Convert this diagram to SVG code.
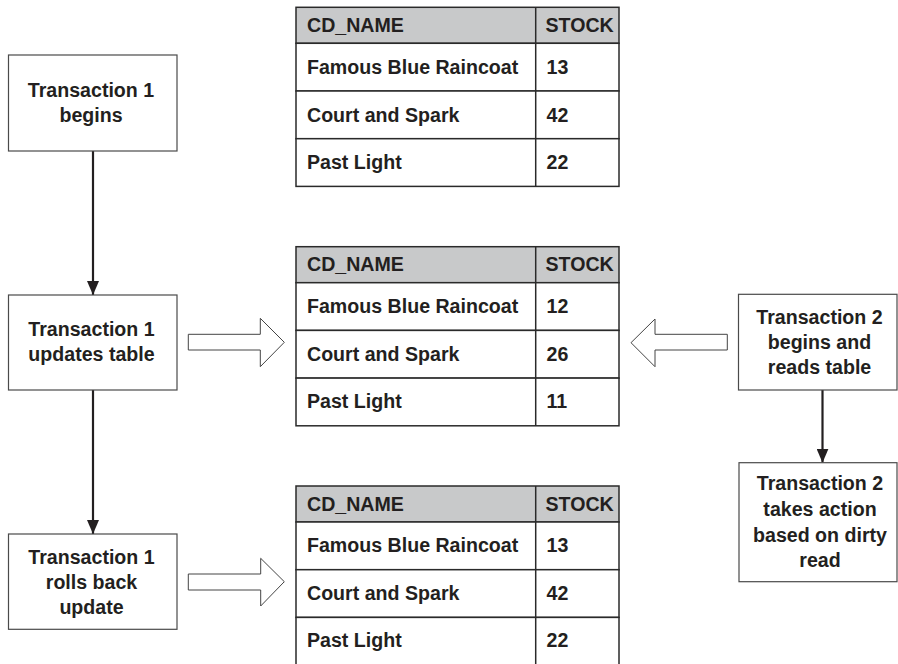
<svg xmlns="http://www.w3.org/2000/svg" width="898" height="664" viewBox="0 0 898 664">
<style>
  text { font-family: "Liberation Sans", Arial, sans-serif; font-weight: bold; font-size: 19.6px; fill: #231f20; }
  .c { text-anchor: middle; }
  .box { fill: #ffffff; stroke: #4a4a4a; stroke-width: 1.2; }
  .cell { fill: #ffffff; stroke: #2a2a2a; stroke-width: 1.5; }
  .hdr { fill: #c8c9ca; stroke: #2a2a2a; stroke-width: 1.5; }
  .line { stroke: #231f20; stroke-width: 2.2; fill: none; }
  .hollow { fill: #ffffff; stroke: #444; stroke-width: 1; stroke-linejoin: miter; }
</style>
<defs>
  <marker id="ah" viewBox="0 0 14 12" refX="14" refY="6" markerWidth="14" markerHeight="12" markerUnits="userSpaceOnUse" orient="auto">
    <path d="M0,0 L14,6 L0,12 Z" fill="#231f20"/>
  </marker>
  <g id="tbl-frame">
    <rect class="hdr" x="0" y="0" width="323" height="36"/>
    <rect class="cell" x="0" y="36" width="323" height="47.7"/>
    <rect class="cell" x="0" y="83.7" width="323" height="47.7"/>
    <rect class="cell" x="0" y="131.4" width="323" height="47.7"/>
    <line x1="239.7" y1="0" x2="239.7" y2="179.1" stroke="#2a2a2a" stroke-width="1.5"/>
    <text x="11" y="24.8">CD_NAME</text>
    <text x="249.5" y="24.8">STOCK</text>
    <text x="11" y="66.3">Famous Blue Raincoat</text>
    <text x="11" y="114.3">Court and Spark</text>
    <text x="11" y="161.3">Past Light</text>
  </g>
</defs>

<g id="connectors">
  <line class="line" x1="93" y1="151" x2="93" y2="295" marker-end="url(#ah)"/>
  <line class="line" x1="93" y1="390" x2="93" y2="534" marker-end="url(#ah)"/>
  <line class="line" x1="822.5" y1="390" x2="822.5" y2="462.7" marker-end="url(#ah)"/>
  <path class="hollow" d="M188.3,334.3 L260.3,334.3 L260.3,318.3 L284.3,342.3 L260.3,366.7 L260.3,350 L188.3,350 Z"/>
  <path class="hollow" d="M727.3,334.3 L655,334.3 L655,319 L631,342.7 L655,366.7 L655,350 L727.3,350 Z"/>
  <path class="hollow" d="M188.3,574 L260.7,574 L260.7,558.3 L284.3,581.7 L260.7,606 L260.7,590 L188.3,590 Z"/>
</g>

<g id="t1-begins">
  <rect class="box" x="8.5" y="55" width="168.5" height="96"/>
  <text class="c" x="91" y="97.3">Transaction 1</text>
  <text class="c" x="91" y="122.3">begins</text>
</g>

<g id="t1-updates">
  <rect class="box" x="8.5" y="295" width="168.5" height="95"/>
  <text class="c" x="91.5" y="336.3">Transaction 1</text>
  <text class="c" x="91.5" y="361.3">updates table</text>
</g>

<g id="t1-rollback">
  <rect class="box" x="8.5" y="534" width="168.5" height="95.3"/>
  <text class="c" x="91.5" y="563.6">Transaction 1</text>
  <text class="c" x="91.5" y="588.6">rolls back</text>
  <text class="c" x="91.5" y="613.6">update</text>
</g>

<g id="t2-reads">
  <rect class="box" x="738.5" y="294.3" width="158.5" height="95.7"/>
  <text class="c" x="819.5" y="323.6">Transaction 2</text>
  <text class="c" x="819.5" y="349.3">begins and</text>
  <text class="c" x="819.5" y="374.3">reads table</text>
</g>

<g id="t2-action">
  <rect class="box" x="739" y="462.7" width="158" height="119"/>
  <text class="c" x="820" y="490.3">Transaction 2</text>
  <text class="c" x="820" y="516.3">takes action</text>
  <text class="c" x="820" y="542">based on dirty</text>
  <text class="c" x="820" y="567">read</text>
</g>

<g id="table-before" transform="translate(296,7.3)">
  <use href="#tbl-frame"/>
  <text x="250.5" y="66.3">13</text>
  <text x="250.5" y="114.3">42</text>
  <text x="250.5" y="161.3">22</text>
</g>

<g id="table-dirty" transform="translate(296,246.7)">
  <use href="#tbl-frame"/>
  <text x="250.5" y="66.3">12</text>
  <text x="250.5" y="114.3">26</text>
  <text x="250.5" y="161.3">11</text>
</g>

<g id="table-after" transform="translate(296,486)">
  <use href="#tbl-frame"/>
  <text x="250.5" y="66.3">13</text>
  <text x="250.5" y="114.3">42</text>
  <text x="250.5" y="161.3">22</text>
</g>
</svg>
